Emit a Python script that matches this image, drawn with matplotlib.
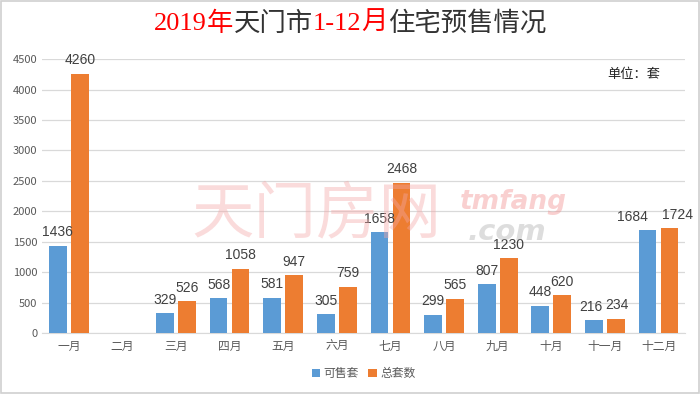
import numpy as np
import matplotlib
matplotlib.use("Agg")
import matplotlib.pyplot as plt
from matplotlib.patches import Rectangle

plt.rcParams['font.family'] = ['Noto Sans CJK SC', 'DejaVu Sans']

months = ['一月', '二月', '三月', '四月', '五月', '六月', '七月', '八月', '九月', '十月', '十一月', '十二月']
available = [1436, np.nan, 329, 568, 581, 305, 1658, 299, 807, 448, 216, 1684]
total = [4260, np.nan, 526, 1058, 947, 759, 2468, 565, 1230, 620, 234, 1724]
series_names = ['可售套', '总套数']
yticks = [0, 500, 1000, 1500, 2000, 2500, 3000, 3500, 4000, 4500]

blue = '#5B9BD5'
orange = '#ED7D31'

# horizontal label nudges (points) to avoid collisions, as in the reference
nudge_blue = {10: -2, 11: -11}
nudge_orange = {10: 1, 11: 6}

fig = plt.figure(figsize=(7, 3.94), dpi=100)
fig.patch.set_facecolor('white')
fig.add_artist(Rectangle((0.002, 0.002), 0.996, 0.996, transform=fig.transFigure,
                         fill=False, edgecolor='#D0D0D0', linewidth=1.2))

ax = fig.add_axes([0.06, 0.155, 0.919, 0.695])
x = np.arange(len(months))
w = 0.33
off = 0.205
ax.bar(x - off, available, w, color=blue, label=series_names[0], zorder=3)
ax.bar(x + off, total, w, color=orange, label=series_names[1], zorder=3)

for xs, vals, nud in ((x - off, available, nudge_blue), (x + off, total, nudge_orange)):
    for i, (xi, v) in enumerate(zip(xs, vals)):
        if not np.isnan(v):
            ax.annotate(f'{int(v)}', (xi, v), xytext=(nud.get(i, 0), 4.5),
                        textcoords='offset points',
                        ha='center', va='bottom', fontsize=10, color='#404040',
                        family=['Liberation Sans'], zorder=4)

ax.set_xlim(-0.5, len(months) - 0.5)
ax.set_ylim(0, 4500)
ax.set_yticks(yticks)
ax.set_yticklabels([str(t) for t in yticks], fontsize=8, color='#595959')
ax.set_xticks(x)
ax.set_xticklabels(months, fontsize=8.5, color='#595959')
ax.tick_params(axis='both', length=0)
ax.tick_params(axis='x', pad=5)
ax.grid(axis='y', color='#D9D9D9', linewidth=0.9, zorder=0)
for s in ('top', 'right', 'left'):
    ax.spines[s].set_visible(False)
ax.spines['bottom'].set_color('#D9D9D9')

# watermark
fig.text(0.274, 0.455, '天门房网', fontsize=45, color='#F4A6A6', alpha=0.4,
         ha='left', va='center', zorder=5)
fig.text(0.657, 0.487, 'tmfang', fontsize=19, color='#F28B8B', alpha=0.4,
         ha='left', va='center', fontweight='bold', style='italic',
         family=['DejaVu Sans'], zorder=5)
fig.text(0.668, 0.41, '.com', fontsize=21, color='#A0A0A0', alpha=0.35,
         ha='left', va='center', fontweight='bold', style='italic',
         family=['DejaVu Sans'], zorder=5)

# title
parts = [('2019', 'red'), ('年', 'red'), ('天门市', '#333333'), ('1-12', 'red'),
         ('月', 'red'), ('住宅预售情况', '#333333')]
fig.canvas.draw()
renderer = fig.canvas.get_renderer()
texts = []
for s, c in parts:
    t = fig.text(0, 0.94, s, fontsize=19, color=c, va='center', ha='left',
                 family=['Liberation Serif', 'Noto Sans CJK SC'])
    texts.append(t)
widths = [t.get_window_extent(renderer).width / fig.bbox.width for t in texts]
xpos = 0.5 - sum(widths) / 2
for t, wd in zip(texts, widths):
    t.set_x(xpos)
    xpos += wd

fig.text(0.905, 0.812, '单位：套', fontsize=9.5, color='#222222', ha='center', va='center')

leg = ax.legend(loc='upper center', bbox_to_anchor=(0.5, -0.085), ncol=2, frameon=False,
                fontsize=8.5, handlelength=0.7, handleheight=0.7, handletextpad=0.3,
                columnspacing=0.8)
for t in leg.get_texts():
    t.set_color('#595959')

fig.savefig('out.png', dpi=100, facecolor='white')
